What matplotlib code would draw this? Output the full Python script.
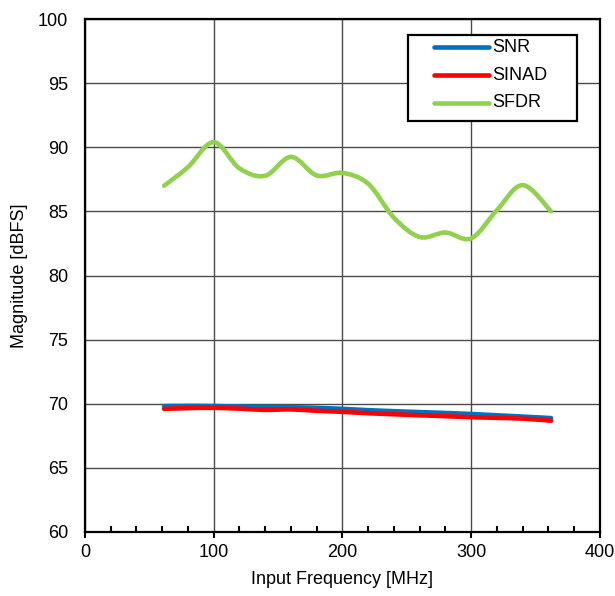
import matplotlib.pyplot as plt
import numpy as np
from matplotlib.path import Path
from matplotlib.patches import PathPatch, Rectangle
from matplotlib.ticker import MultipleLocator

plt.rcParams['font.family'] = ['Liberation Sans', 'DejaVu Sans']

# input frequency [MHz]
freq = [61.44, 80, 100, 120, 140, 160, 180, 200, 220, 240, 260, 280, 300, 320, 340, 362]
# magnitudes [dBFS]
snr = [69.82, 69.83, 69.82, 69.78, 69.75, 69.73, 69.68, 69.6, 69.5, 69.42, 69.35, 69.28, 69.2, 69.1, 69.0, 68.88]
sinad = [69.6, 69.66, 69.68, 69.62, 69.52, 69.56, 69.45, 69.37, 69.26, 69.18, 69.1, 69.03, 68.95, 68.9, 68.84, 68.68]
sfdr = [87.0, 88.45, 90.4, 88.35, 87.78, 89.25, 87.8, 88.0, 87.15, 84.5, 83.0, 83.35, 82.9, 85.1, 87.05, 85.0]

series = [('SNR', snr, '#0070C0'), ('SINAD', sinad, '#FF0000'), ('SFDR', sfdr, '#92D050')]
FS = 13


def smooth_path(x, y):
    # catmull-rom style bezier, like a spreadsheet "smoothed line"
    p = np.column_stack([x, y])
    n = len(p)
    verts = [p[0]]
    codes = [Path.MOVETO]
    for i in range(n - 1):
        p0 = p[i - 1] if i > 0 else p[i]
        p3 = p[i + 2] if i + 2 < n else p[i + 1]
        c1 = p[i] + (p[i + 1] - p0) / 6.0
        c2 = p[i + 1] - (p3 - p[i]) / 6.0
        verts += [c1, c2, p[i + 1]]
        codes += [Path.CURVE4] * 3
    return Path(verts, codes)


fig = plt.figure(figsize=(6.15, 5.96), dpi=100)
ax = fig.add_axes([0.1382, 0.1074, 0.8374, 0.8607])

for name, vals, col in series:
    patch = PathPatch(smooth_path(freq, vals), fill=False, edgecolor=col,
                      lw=3.3, capstyle='round', joinstyle='round', zorder=3)
    ax.add_patch(patch)

ax.set_xlim(0, 400)
ax.set_ylim(60, 100)
ax.xaxis.set_major_locator(MultipleLocator(100))
ax.xaxis.set_minor_locator(MultipleLocator(20))
ax.yaxis.set_major_locator(MultipleLocator(5))
ax.grid(True, which='major', color='#4a4a4a', lw=1.0)
ax.set_axisbelow(True)

for s in ax.spines.values():
    s.set_linewidth(1.6)
    s.set_zorder(4)

ax.tick_params(axis='x', which='major', direction='out', length=4, width=1.5,
               labelsize=FS, pad=5)
ax.tick_params(axis='x', which='minor', direction='in', length=4, width=1.5)
ax.tick_params(axis='y', which='major', length=0, labelsize=FS, pad=12)

ax.set_xlabel('Input Frequency [MHz]', fontsize=FS, labelpad=7)
ax.set_ylabel('Magnitude [dBFS]', fontsize=FS, labelpad=7)

# legend box, drawn by hand in axes fraction
ax.add_patch(Rectangle((0.6272, 0.8012), 0.3282, 0.1676, transform=ax.transAxes,
                       facecolor='white', edgecolor='black', lw=1.6, zorder=5))
rows = [0.9454, 0.8908, 0.8363]
for (name, vals, col), yr in zip(series, rows):
    ax.plot([0.6777, 0.7845], [yr, yr], transform=ax.transAxes, color=col,
            lw=3.3, solid_capstyle='round', zorder=6)
    ax.text(0.7905, yr, name, transform=ax.transAxes, fontsize=FS,
            va='center', ha='left', zorder=6)

fig.savefig('out.png', dpi=100)
